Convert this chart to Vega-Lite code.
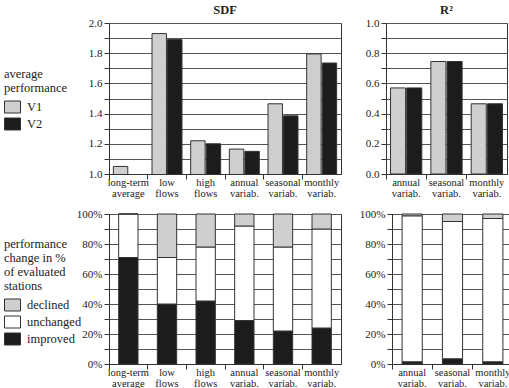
{
  "$schema": "https://vega.github.io/schema/vega-lite/v6.json",
  "padding": {"left": 3, "top": 3, "right": 5, "bottom": 0},
  "background": "white",
  "config": {
    "font": "Liberation Serif",
    "view": {"stroke": "#333", "strokeWidth": 1},
    "axis": {
      "labelFont": "Liberation Serif", "labelFontSize": 10.5, "labelColor": "#222",
      "domainColor": "#333", "tickColor": "#333", "tickSize": 5,
      "gridColor": "#555", "gridWidth": 1, "gridOpacity": 1, "title": null
    },
    "axisY": {"labelFontSize": 11},
    "title": {"font": "Liberation Serif", "fontSize": 12.5, "fontWeight": "bold", "color": "#222", "offset": 1, "frame": "group"},
    "legend": {
      "titleFont": "Liberation Serif", "titleFontSize": 12.5, "titleFontWeight": "normal", "titleColor": "#222",
      "titleLineHeight": 14, "labelFont": "Liberation Serif", "labelFontSize": 12.5, "labelColor": "#222",
      "symbolType": "M-1,-0.75H1V0.75H-1Z", "symbolSize": 256, "symbolStrokeColor": "#333", "symbolStrokeWidth": 1,
      "rowPadding": 0, "labelOffset": 6, "titlePadding": 4
    }
  },
  "datasets": {
    "avg_sdf": [
      {"measure": "long-term average", "version": "V1", "value": 1.05},
      {"measure": "low flows", "version": "V1", "value": 1.93},
      {"measure": "low flows", "version": "V2", "value": 1.89},
      {"measure": "high flows", "version": "V1", "value": 1.22},
      {"measure": "high flows", "version": "V2", "value": 1.2},
      {"measure": "annual variab.", "version": "V1", "value": 1.165},
      {"measure": "annual variab.", "version": "V2", "value": 1.15},
      {"measure": "seasonal variab.", "version": "V1", "value": 1.465},
      {"measure": "seasonal variab.", "version": "V2", "value": 1.385},
      {"measure": "monthly variab.", "version": "V1", "value": 1.795},
      {"measure": "monthly variab.", "version": "V2", "value": 1.735}
    ],
    "avg_r2": [
      {"measure": "annual variab.", "version": "V1", "value": 0.57},
      {"measure": "annual variab.", "version": "V2", "value": 0.57},
      {"measure": "seasonal variab.", "version": "V1", "value": 0.745},
      {"measure": "seasonal variab.", "version": "V2", "value": 0.745},
      {"measure": "monthly variab.", "version": "V1", "value": 0.465},
      {"measure": "monthly variab.", "version": "V2", "value": 0.465}
    ],
    "chg_sdf": [
      {"measure": "long-term average", "change": "improved", "pct": 71},
      {"measure": "long-term average", "change": "unchanged", "pct": 29},
      {"measure": "long-term average", "change": "declined", "pct": 0},
      {"measure": "low flows", "change": "improved", "pct": 40},
      {"measure": "low flows", "change": "unchanged", "pct": 31},
      {"measure": "low flows", "change": "declined", "pct": 29},
      {"measure": "high flows", "change": "improved", "pct": 42},
      {"measure": "high flows", "change": "unchanged", "pct": 36},
      {"measure": "high flows", "change": "declined", "pct": 22},
      {"measure": "annual variab.", "change": "improved", "pct": 29},
      {"measure": "annual variab.", "change": "unchanged", "pct": 63},
      {"measure": "annual variab.", "change": "declined", "pct": 8},
      {"measure": "seasonal variab.", "change": "improved", "pct": 22},
      {"measure": "seasonal variab.", "change": "unchanged", "pct": 56},
      {"measure": "seasonal variab.", "change": "declined", "pct": 22},
      {"measure": "monthly variab.", "change": "improved", "pct": 24},
      {"measure": "monthly variab.", "change": "unchanged", "pct": 66},
      {"measure": "monthly variab.", "change": "declined", "pct": 10}
    ],
    "chg_r2": [
      {"measure": "annual variab.", "change": "improved", "pct": 1.5},
      {"measure": "annual variab.", "change": "unchanged", "pct": 97.3},
      {"measure": "annual variab.", "change": "declined", "pct": 1.2},
      {"measure": "seasonal variab.", "change": "improved", "pct": 3.5},
      {"measure": "seasonal variab.", "change": "unchanged", "pct": 91.5},
      {"measure": "seasonal variab.", "change": "declined", "pct": 5},
      {"measure": "monthly variab.", "change": "improved", "pct": 1.5},
      {"measure": "monthly variab.", "change": "unchanged", "pct": 95.5},
      {"measure": "monthly variab.", "change": "declined", "pct": 3}
    ]
  },
  "vconcat": [
    {
      "hconcat": [
        {
          "width": 232, "height": 151,
          "title": "SDF",
          "data": {"name": "avg_sdf"},
          "mark": {"type": "bar", "stroke": "#333", "strokeWidth": 1, "clip": true},
          "encoding": {
            "x": {"field": "measure", "type": "nominal",
              "sort": ["long-term average", "low flows", "high flows", "annual variab.", "seasonal variab.", "monthly variab."],
              "scale": {"paddingInner": 0, "paddingOuter": 0},
              "axis": {"bandPosition": 0, "labelAngle": 0, "labelExpr": "split(datum.label, ' ')", "labelLineHeight": 11.5, "labelPadding": -2}},
            "xOffset": {"field": "version", "type": "nominal", "scale": {"domain": ["V1", "V2"], "paddingInner": 0.07, "paddingOuter": 0.28}},
            "y": {"field": "value", "type": "quantitative",
              "scale": {"domain": [1, 2], "zero": false, "nice": false},
              "axis": {"values": [1, 1.1, 1.2, 1.3, 1.4, 1.5, 1.6, 1.7, 1.8, 1.9, 2], "labelExpr": "round(datum.value*10)%2==0 ? format(datum.value, '.1f') : ''"}},
            "color": {"field": "version", "type": "nominal",
              "scale": {"domain": ["V1", "V2"], "range": ["#cfcfcf", "#1c1c1c"]},
              "legend": {"orient": "none", "legendX": -105, "legendY": 45, "title": ["average", "performance"]}}
          }
        },
        {
          "width": 121, "height": 151,
          "title": "R²",
          "data": {"name": "avg_r2"},
          "mark": {"type": "bar", "stroke": "#333", "strokeWidth": 1},
          "encoding": {
            "x": {"field": "measure", "type": "nominal",
              "sort": ["annual variab.", "seasonal variab.", "monthly variab."],
              "scale": {"paddingInner": 0, "paddingOuter": 0},
              "axis": {"bandPosition": 0, "labelAngle": 0, "labelExpr": "split(datum.label, ' ')", "labelLineHeight": 11.5, "labelPadding": -2}},
            "xOffset": {"field": "version", "type": "nominal", "scale": {"domain": ["V1", "V2"], "paddingInner": 0.07, "paddingOuter": 0.28}},
            "y": {"field": "value", "type": "quantitative",
              "scale": {"domain": [0, 1], "nice": false},
              "axis": {"values": [0, 0.1, 0.2, 0.3, 0.4, 0.5, 0.6, 0.7, 0.8, 0.9, 1], "labelExpr": "round(datum.value*10)%2==0 ? format(datum.value, '.1f') : ''"}},
            "color": {"field": "version", "type": "nominal",
              "scale": {"domain": ["V1", "V2"], "range": ["#cfcfcf", "#1c1c1c"]},
              "legend": null}
          }
        }
      ],
      "spacing": 22,
      "resolve": {"scale": {"color": "independent", "x": "independent", "y": "independent", "xOffset": "independent"}, "legend": {"color": "independent"}}
    },
    {
      "hconcat": [
        {
          "width": 232, "height": 150,
          "data": {"name": "chg_sdf"},
          "transform": [{"calculate": "indexof(['improved','unchanged','declined'], datum.change)", "as": "stackorder"}],
          "mark": {"type": "bar", "stroke": "#333", "strokeWidth": 1, "width": {"band": 0.5}},
          "encoding": {
            "x": {"field": "measure", "type": "nominal",
              "sort": ["long-term average", "low flows", "high flows", "annual variab.", "seasonal variab.", "monthly variab."],
              "scale": {"paddingInner": 0, "paddingOuter": 0},
              "axis": {"bandPosition": 0, "labelAngle": 0, "labelExpr": "split(datum.label, ' ')", "labelLineHeight": 11.5, "labelPadding": -2}},
            "y": {"field": "pct", "type": "quantitative", "stack": "zero",
              "scale": {"domain": [0, 100], "nice": false},
              "axis": {"values": [0, 10, 20, 30, 40, 50, 60, 70, 80, 90, 100], "labelExpr": "datum.value % 20 == 0 ? datum.value + '%' : ''"}},
            "order": {"field": "stackorder", "type": "quantitative"},
            "color": {"field": "change", "type": "nominal",
              "scale": {"domain": ["declined", "unchanged", "improved"], "range": ["#cfcfcf", "#ffffff", "#1c1c1c"]},
              "legend": {"orient": "none", "legendX": -105, "legendY": 24, "title": ["performance", "change in %", "of evaluated", "stations"]}}
          }
        },
        {
          "width": 121, "height": 150,
          "data": {"name": "chg_r2"},
          "transform": [{"calculate": "indexof(['improved','unchanged','declined'], datum.change)", "as": "stackorder"}],
          "mark": {"type": "bar", "stroke": "#333", "strokeWidth": 1, "width": {"band": 0.5}},
          "encoding": {
            "x": {"field": "measure", "type": "nominal",
              "sort": ["annual variab.", "seasonal variab.", "monthly variab."],
              "scale": {"paddingInner": 0, "paddingOuter": 0},
              "axis": {"bandPosition": 0, "labelAngle": 0, "labelExpr": "split(datum.label, ' ')", "labelLineHeight": 11.5, "labelPadding": -2}},
            "y": {"field": "pct", "type": "quantitative", "stack": "zero",
              "scale": {"domain": [0, 100], "nice": false},
              "axis": {"values": [0, 10, 20, 30, 40, 50, 60, 70, 80, 90, 100], "labelExpr": "datum.value % 20 == 0 ? datum.value + '%' : ''"}},
            "order": {"field": "stackorder", "type": "quantitative"},
            "color": {"field": "change", "type": "nominal",
              "scale": {"domain": ["declined", "unchanged", "improved"], "range": ["#cfcfcf", "#ffffff", "#1c1c1c"]},
              "legend": null}
          }
        }
      ],
      "spacing": 16,
      "resolve": {"scale": {"color": "independent", "x": "independent", "y": "independent"}, "legend": {"color": "independent"}}
    }
  ],
  "spacing": 7,
  "resolve": {"scale": {"color": "independent"}, "legend": {"color": "independent"}}
}
